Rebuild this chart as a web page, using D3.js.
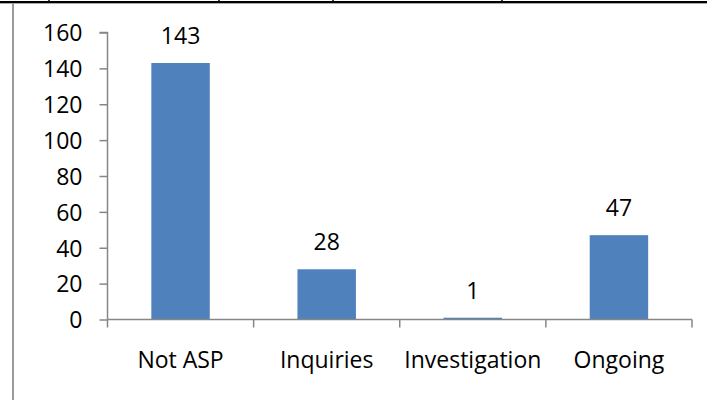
<!DOCTYPE html>
<html>
<head>
<meta charset="utf-8">
<script src="https://cdn.jsdelivr.net/npm/d3@7/dist/d3.min.js"></script>
<style>
  html, body { margin: 0; padding: 0; background: #fff; }
  svg { display: block; }
  text { font-family: "Open Sans", "Noto Sans", sans-serif; fill: #000; }
</style>
</head>
<body>
<svg id="chart" width="707" height="400"></svg>
<script>
const categories = ["Not ASP", "Inquiries", "Investigation", "Ongoing"];
const values = [143, 28, 1, 47];
const yTicks = [0, 20, 40, 60, 80, 100, 120, 140, 160];
const tableTicks = [49, 219, 333, 502];

const svg = d3.select("#chart");
const W = 707, H = 400;
const fontSize = 23;

// surrounding table frame
svg.append("line").attr("x1", 0).attr("x2", W).attr("y1", 3.5).attr("y2", 3.5)
  .attr("stroke", "#aaa").attr("stroke-width", 1);
svg.append("line").attr("x1", 0).attr("x2", W).attr("y1", 2).attr("y2", 2)
  .attr("stroke", "#000").attr("stroke-width", 2);
svg.selectAll("line.tt").data(tableTicks).enter().append("line")
  .attr("class", "tt")
  .attr("x1", d => d).attr("x2", d => d).attr("y1", 0).attr("y2", 3)
  .attr("stroke", "#000").attr("stroke-width", 1.5);
svg.append("line").attr("x1", 13).attr("x2", 13).attr("y1", 3).attr("y2", H)
  .attr("stroke", "#9a9a9a").attr("stroke-width", 2);

const x0 = 107.5, x1 = 692, yBottom = 319.5, yTop = 32.5;
const x = d3.scaleBand().domain(categories).range([x0, x1]).paddingInner(0.6).paddingOuter(0.3);
const y = d3.scaleLinear().domain([0, 160]).range([yBottom, yTop]);
const axisColor = "#868686";

// bars
svg.selectAll("rect.bar").data(values).enter().append("rect")
  .attr("class", "bar")
  .attr("x", (d, i) => x(categories[i]))
  .attr("width", x.bandwidth())
  .attr("y", d => y(d))
  .attr("height", d => y(0) - y(d))
  .attr("fill", "#4f81bd");

// y axis
const yAxis = d3.axisLeft(y).tickValues(yTicks).tickSize(8).tickPadding(17);
const gy = svg.append("g").attr("transform", `translate(${x0},0)`).call(yAxis);
gy.select(".domain").attr("stroke", axisColor).attr("stroke-width", 1.5).attr("d", `M-8,${yTop}H0V${yBottom}`);
gy.selectAll(".tick line").attr("stroke", axisColor).attr("stroke-width", 1.5);
gy.selectAll(".tick text").attr("font-size", fontSize).attr("font-family", "Open Sans").attr("fill", "#000").attr("dy", "0.36em");

// x axis
const step = x.step();
const boundaries = categories.map(c => x(c) - step * x.paddingInner() / 2);
boundaries.push(x1);
svg.append("line").attr("x1", x0).attr("x2", x1).attr("y1", yBottom).attr("y2", yBottom)
  .attr("stroke", axisColor).attr("stroke-width", 1.5);
svg.selectAll("line.xt").data(boundaries).enter().append("line")
  .attr("class", "xt")
  .attr("x1", d => d).attr("x2", d => d).attr("y1", yBottom).attr("y2", yBottom + 8)
  .attr("stroke", axisColor).attr("stroke-width", 1.5);
svg.selectAll("text.xl").data(categories).enter().append("text")
  .attr("class", "xl")
  .attr("x", d => x(d) + x.bandwidth() / 2)
  .attr("y", 368)
  .attr("text-anchor", "middle")
  .attr("font-size", fontSize)
  .text(d => d);

// value labels
svg.selectAll("text.vl").data(values).enter().append("text")
  .attr("class", "vl")
  .attr("x", (d, i) => x(categories[i]) + x.bandwidth() / 2)
  .attr("y", d => y(d) - 19)
  .attr("text-anchor", "middle")
  .attr("font-size", fontSize)
  .text(d => d);
</script>
</body>
</html>
